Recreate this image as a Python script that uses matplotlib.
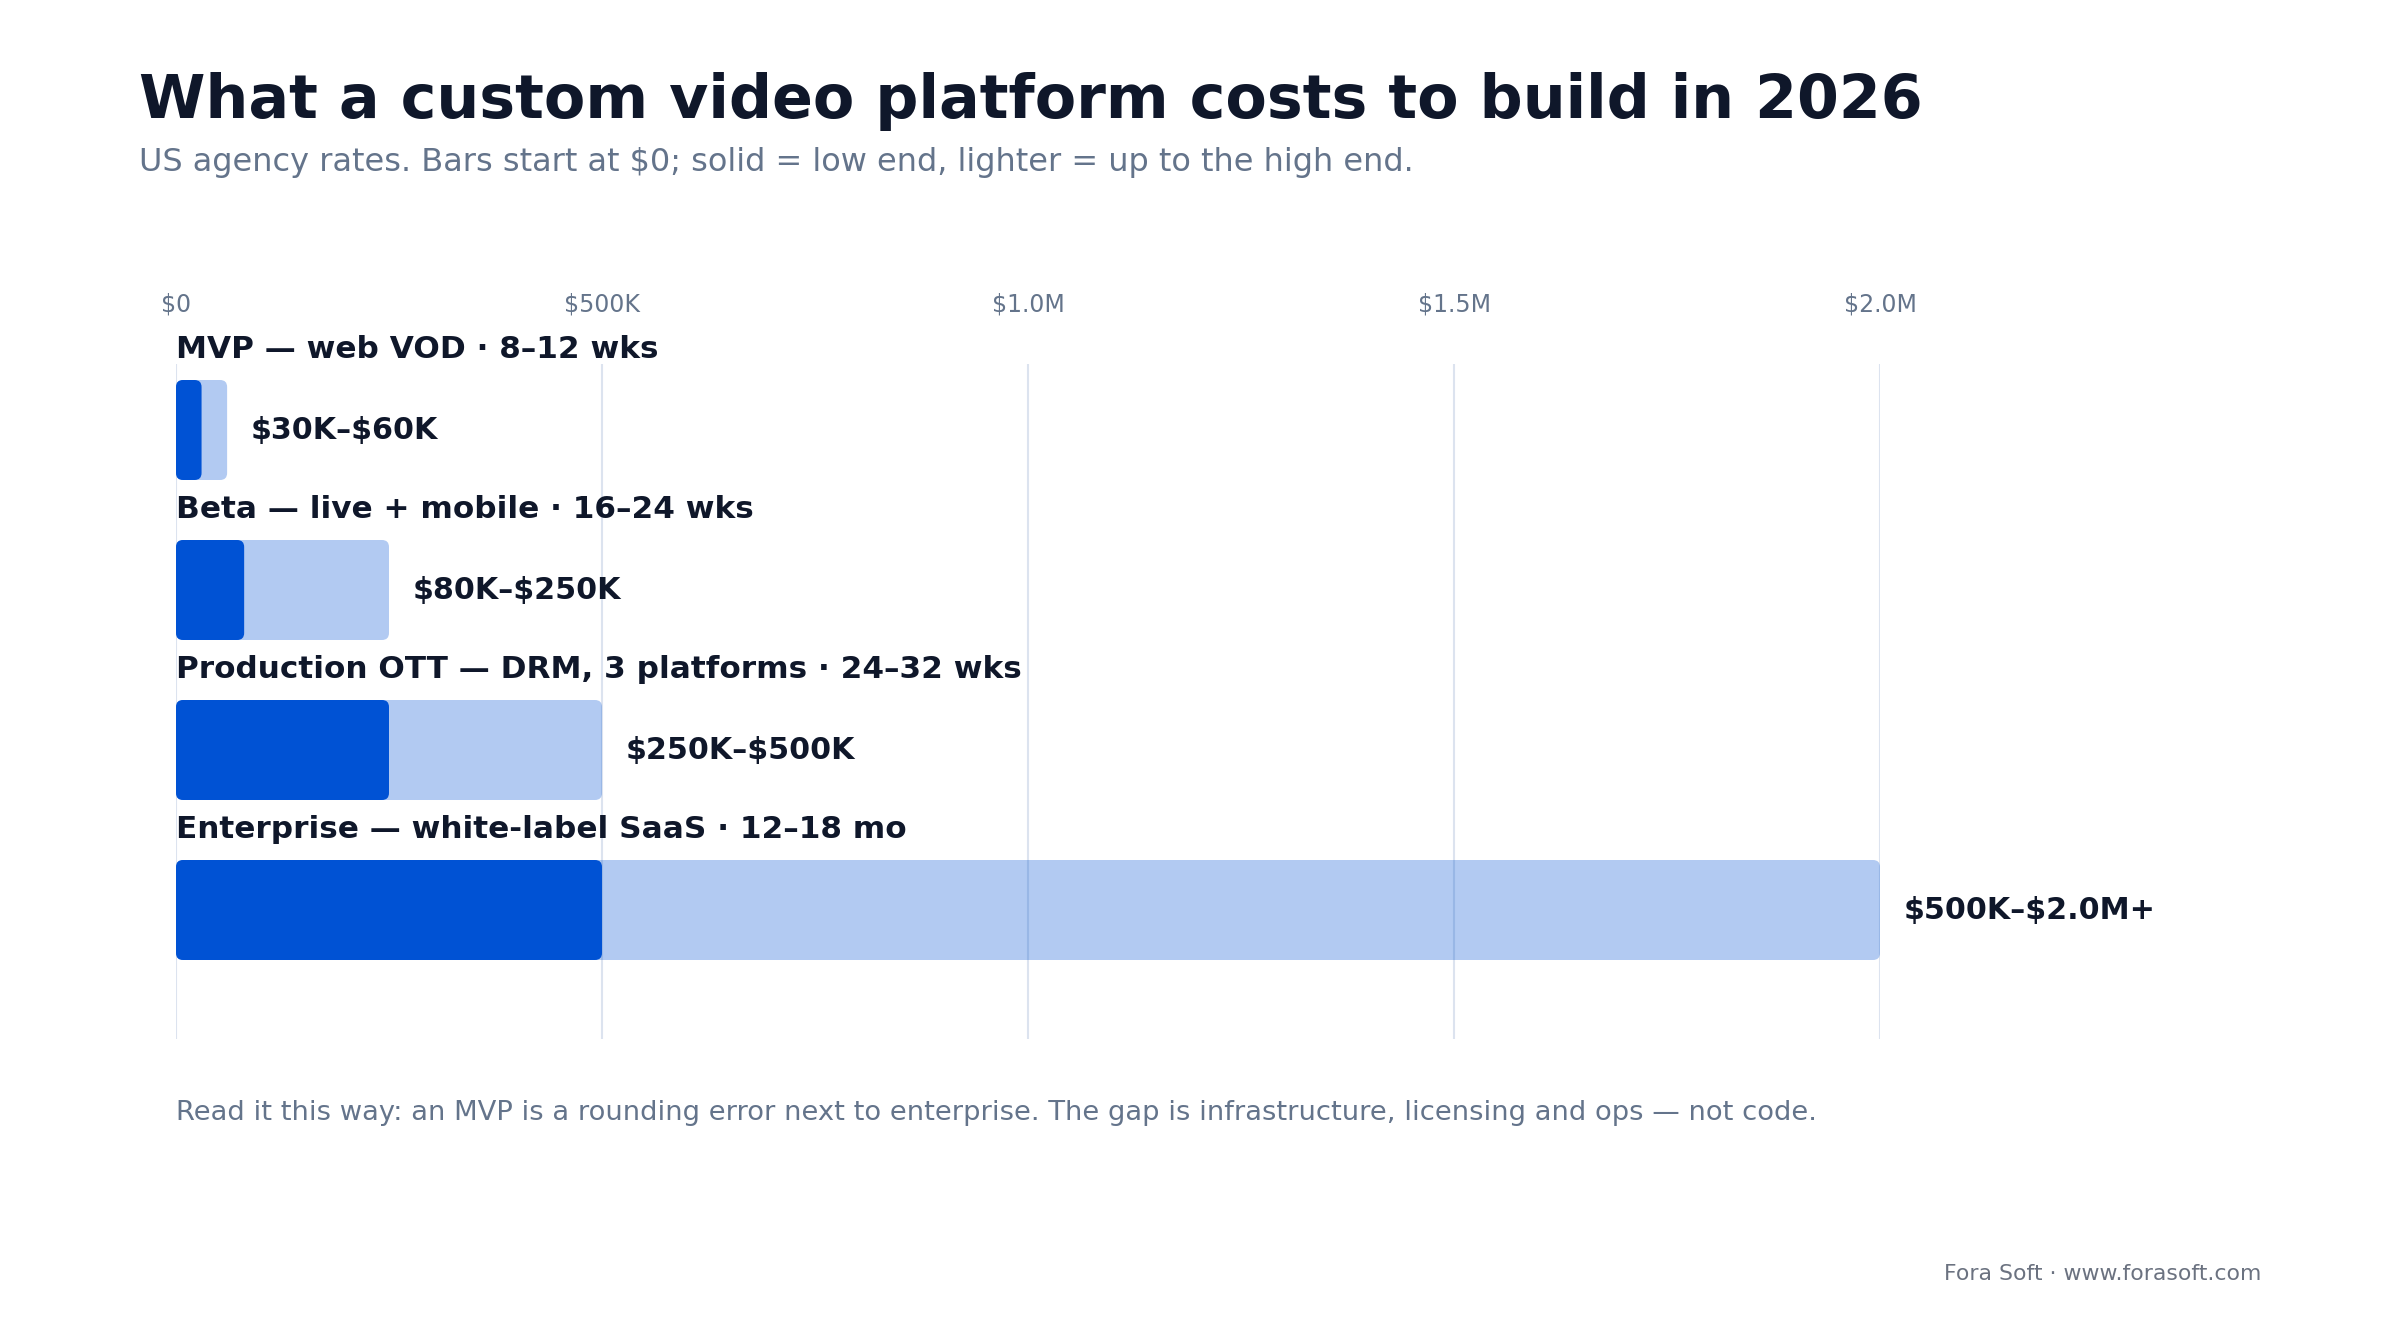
import matplotlib
matplotlib.use("Agg")
import matplotlib.pyplot as plt
from matplotlib.patches import FancyBboxPatch

# data (in $K)
labels = [
    "MVP — web VOD · 8–12 wks",
    "Beta — live + mobile · 16–24 wks",
    "Production OTT — DRM, 3 platforms · 24–32 wks",
    "Enterprise — white-label SaaS · 12–18 mo",
]
low = [30, 80, 250, 500]
high = [60, 250, 500, 2000]
range_text = [r"\$30K–\$60K", r"\$80K–\$250K", r"\$250K–\$500K", r"\$500K–\$2.0M+"]
tick_vals = [0, 500, 1000, 1500, 2000]
tick_labels = [r"\$0", r"\$500K", r"\$1.0M", r"\$1.5M", r"\$2.0M"]

blue = "#0052d4"
dark = "#0f172a"
slate = "#64748b"

W, H, DPI = 12, 6.6, 200
fig = plt.figure(figsize=(W, H), dpi=DPI)
fig.patch.set_facecolor("white")

# axes box in pixels: x 176..1880, y 364..1039 (from top)
ax = fig.add_axes([176 / 2400, 1 - 1039 / 1320, 1704 / 2400, 675 / 1320])
ax.set_xlim(0, 2000)
row = 160.0
ax.set_ylim((675 - 66) / row, -66 / row)

bar_h = 100 / row
xpp = 2000 / 1704          # data x per pixel
ypp = 1 / row              # data y per pixel
aspect = ypp / xpp
rad = 7 * xpp

for i in range(len(labels)):
    y0 = i - bar_h / 2
    light = FancyBboxPatch((0, y0), high[i], bar_h,
                           boxstyle=f"round,pad=0,rounding_size={rad}",
                           mutation_aspect=aspect, fc=blue, alpha=0.3,
                           ec="none", zorder=2)
    ax.add_patch(light)
    solid = FancyBboxPatch((0, y0), low[i], bar_h,
                           boxstyle=f"round,pad=0,rounding_size={rad}",
                           mutation_aspect=aspect, fc=blue, ec="none",
                           zorder=3)
    ax.add_patch(solid)
    ax.text(0, i - 0.505, labels[i], fontsize=11.2, fontweight="bold",
            color=dark, va="center", ha="left", zorder=4)
    ax.text(high[i] + 24 * xpp, i, range_text[i], fontsize=10.85,
            fontweight="bold", color=dark, va="center", ha="left", zorder=4)

ax.set_xticks(tick_vals)
ax.set_xticklabels(tick_labels)
ax.set_yticks([])
ax.xaxis.tick_top()
ax.tick_params(axis="x", length=0, pad=17, labelsize=8.5, labelcolor=slate)
ax.grid(axis="x", color="#dce3ef", lw=0.75, zorder=0)
ax.set_axisbelow(True)
for s in ax.spines.values():
    s.set_visible(False)
ax.set_facecolor("none")

fig.text(139 / 2400, 1 - 118 / 1320,
         "What a custom video platform costs to build in 2026",
         fontsize=21.7, fontweight="bold", color=dark, ha="left", va="baseline")
fig.text(139 / 2400, 1 - 171 / 1320,
         r"US agency rates. Bars start at \$0; solid = low end, lighter = up to the high end.",
         fontsize=11.5, color=slate, ha="left", va="baseline")
fig.text(176 / 2400, 1 - 1120 / 1320,
         "Read it this way: an MVP is a rounding error next to enterprise. "
         "The gap is infrastructure, licensing and ops — not code.",
         fontsize=9.87, color=slate, ha="left", va="baseline")
fig.text(2261 / 2400, 1 - 1280 / 1320, "Fora Soft · www.forasoft.com",
         fontsize=7.95, color="#6b7280", ha="right", va="baseline")

fig.savefig("out.png", dpi=DPI)
